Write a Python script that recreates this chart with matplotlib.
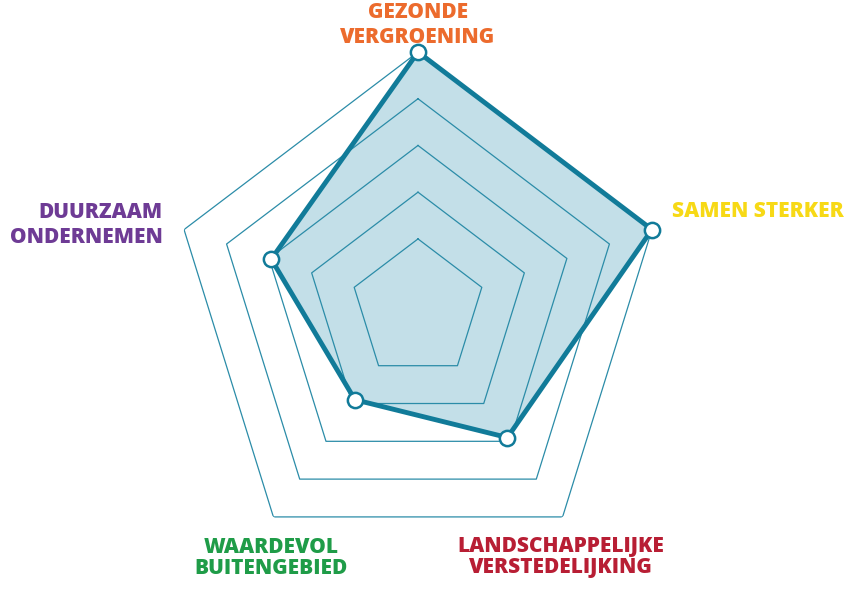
import matplotlib
matplotlib.use("Agg")
import matplotlib.pyplot as plt
import numpy as np

# thema's (klokwijs vanaf boven) en scores
themes = ["GEZONDE\nVERGROENING", "SAMEN STERKER", "LANDSCHAPPELIJKE\nVERSTEDELIJKING",
          "WAARDEVOL\nBUITENGEBIED", "DUURZAAM\nONDERNEMEN"]
scores = [5.0, 5.0, 2.9, 1.9, 2.95]
rings = [1, 2, 3, 4, 5]
theme_colors = ["#EC6B2D", "#F7D916", "#B81E34", "#1F9C48", "#6E3B95"]

W, H = 865, 592
fig = plt.figure(figsize=(W / 100, H / 100), dpi=100)

# polar axes placed in pixels: centre (418, 309), radius 246 x 257 px
cx, cy, rx, ry = 418, 309, 246, 257
ax = fig.add_axes([(cx - rx) / W, (H - cy - ry) / H, 2 * rx / W, 2 * ry / H],
                  projection="polar")
ax.set_aspect("auto")
ax.set_theta_offset(np.pi / 2)
ax.set_theta_direction(-1)
ax.set_ylim(-0.5, 5)
ax.grid(False)
ax.set_xticks([])
ax.set_yticks([])
ax.spines["polar"].set_visible(False)
ax.patch.set_alpha(0)

n = len(themes)
angles = np.linspace(0, 2 * np.pi, n, endpoint=False)
ang_c = np.append(angles, angles[0])
vals_c = np.append(scores, scores[0])

teal = "#117B99"

# fill first, rings on top of it
ax.fill(ang_c, vals_c, color="#C3DFE8", zorder=1, lw=0)
for r in rings:
    ax.plot(ang_c, [r] * (n + 1), color="#2B8CA8", lw=0.9, zorder=2)

ax.plot(ang_c, vals_c, color=teal, lw=3.5, zorder=3, solid_joinstyle="miter")
ax.plot(angles, scores, "o", ms=11, mfc="white", mec=teal, mew=1.8, zorder=4,
        clip_on=False)

# labels
font = dict(family=["Open Sans", "DejaVu Sans"], fontweight="heavy", fontsize=15)
label_pos = [  # x px, y px, ha, linespacing
    (418, 25, "center", 1.2),
    (672, 211.5, "left", 1.1),
    (561, 557, "center", 1.0),
    (271, 558, "center", 1.0),
    (163, 225, "right", 1.2),
]
for txt, col, (x, y, ha, ls) in zip(themes, theme_colors, label_pos):
    fig.text(x / W, 1 - y / H, txt, color=col, ha=ha, va="center",
             multialignment=ha, linespacing=ls, **font)

fig.savefig("out.png", dpi=100)
